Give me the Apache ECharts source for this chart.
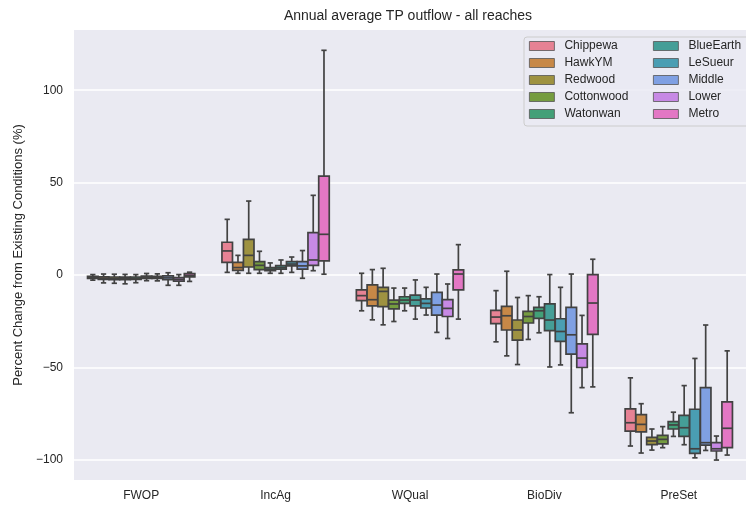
<!DOCTYPE html>
<html>
<head>
<meta charset="utf-8">
<script src="https://cdn.jsdelivr.net/npm/echarts@6/dist/echarts.min.js"></script>
<style>
html,body{margin:0;padding:0;background:#fff;}
#chart{width:746px;height:506px;}
</style>
</head>
<body>
<div id="chart"></div>
<script>
// Categories and hue levels
const categories = ['FWOP', 'IncAg', 'WQual', 'BioDiv', 'PreSet'];
const reaches = ['Chippewa', 'HawkYM', 'Redwood', 'Cottonwood', 'Watonwan',
                 'BlueEarth', 'LeSueur', 'Middle', 'Lower', 'Metro'];
const yTicks = [-100, -50, 0, 50, 100];

// Box statistics per reach: [min whisker, Q1, median, Q3, max whisker] for each category
const chippewa   = [[-2.8,-1.9,-1.4,-0.8,0.2],[1.4,6.8,13.0,17.7,30.1],[-19.4,-13.9,-11.2,-8.1,0.9],[-36.2,-26.3,-22.8,-19.2,-8.5],[-92.6,-84.5,-80.0,-72.5,-55.7]];
const hawkYM     = [[-4.3,-2.4,-1.8,-1.0,0.5],[0.9,2.5,4.0,6.8,10.6],[-24.3,-16.7,-13.4,-5.4,2.9],[-43.8,-29.8,-22.1,-17.0,2.0],[-96.4,-84.9,-80.9,-75.6,-69.7]];
const redwood    = [[-4.5,-2.5,-1.9,-1.1,0.4],[0.9,4.3,10.6,19.3,40.0],[-27.0,-17.2,-8.9,-6.7,3.6],[-48.5,-35.3,-29.8,-24.4,-12.2],[-94.8,-91.9,-89.9,-87.9,-83.4]];
const cottonwood = [[-4.8,-2.6,-2.0,-1.2,0.3],[0.9,2.9,5.2,7.2,12.8],[-25.2,-18.4,-15.7,-13.6,-7.1],[-34.9,-26.0,-22.5,-19.7,-11.2],[-93.5,-91.4,-89.0,-86.8,-82.1]];
const watonwan   = [[-4.2,-2.4,-1.8,-1.1,0.2],[0.9,2.3,3.1,4.0,6.5],[-19.4,-15.4,-13.6,-11.8,-7.1],[-31.3,-23.5,-19.4,-17.6,-11.8],[-87.4,-83.4,-81.2,-79.4,-74.3]];
const blueEarth  = [[-3.1,-1.8,-1.3,-0.6,0.8],[0.9,3.1,4.0,5.0,8.1],[-23.9,-16.7,-13.6,-10.9,-2.7],[-49.8,-30.1,-24.4,-15.7,0.2],[-91.9,-87.4,-82.7,-76.0,-59.9]];
const leSueur    = [[-3.2,-1.9,-1.4,-0.7,0.6],[1.4,4.9,5.9,7.2,9.7],[-21.7,-17.9,-15.4,-13.0,-6.7],[-48.7,-36.0,-30.6,-23.7,-6.7],[-99.0,-96.6,-94.1,-72.7,-45.2]];
const middle     = [[-5.6,-2.6,-1.6,-0.5,1.2],[-1.8,3.2,4.9,7.2,13.2],[-31.1,-21.7,-16.3,-9.4,0.5],[-74.6,-42.9,-32.4,-17.6,0.5],[-95.0,-92.1,-90.8,-61.0,-27.1]];
const lower      = [[-5.6,-3.3,-2.4,-1.4,0.2],[2.3,5.2,8.1,22.9,43.1],[-34.4,-22.5,-18.1,-13.4,-4.9],[-61.0,-50.1,-45.0,-37.3,-21.9],[-100.2,-95.3,-94.1,-90.8,-87.2]];
const metro      = [[-3.5,-1.0,-0.3,0.7,1.5],[0.4,7.6,22.0,53.5,121.6],[-23.9,-8.1,0.5,2.7,16.4],[-60.6,-32.2,-15.2,0.2,8.5],[-97.5,-93.5,-83.0,-68.7,-41.1]];

const reachStats = [chippewa, hawkYM, redwood, cottonwood, watonwan, blueEarth, leSueur, middle, lower, metro];
const colors = ['#e68294', '#c78847', '#9e9241', '#759c40', '#43a078',
                '#459e97', '#4a9eb3', '#7fa0e3', '#c789e5', '#e377c4'];
const edgeColor = '#424242';
const textColor = '#262626';
const FONT = '"Liberation Sans", Arial, Helvetica, sans-serif';

const N = reaches.length;

function makeRender(hueIdx) {
  return function (params, api) {
    const cat = api.value(0);
    const band = api.size([1, 0])[0];
    const slot = band * 0.8 / N;
    const cx = api.coord([cat, 0])[0] + (hueIdx - (N - 1) / 2) * slot;
    const bw = slot * 0.98;
    const yv = i => api.coord([cat, api.value(i)])[1];
    const yMin = yv(1), yQ1 = yv(2), yMed = yv(3), yQ3 = yv(4), yMax = yv(5);
    const ls = { stroke: edgeColor, lineWidth: 1.7, fill: null };
    return {
      type: 'group',
      children: [
        { type: 'rect', shape: { x: cx - bw / 2, y: yQ3, width: bw, height: yQ1 - yQ3 },
          style: { fill: colors[hueIdx], stroke: edgeColor, lineWidth: 1.7 } },
        { type: 'line', shape: { x1: cx, y1: yMax, x2: cx, y2: yQ3 }, style: ls },
        { type: 'line', shape: { x1: cx, y1: yQ1, x2: cx, y2: yMin }, style: ls },
        { type: 'line', shape: { x1: cx - bw / 4, y1: yMax, x2: cx + bw / 4, y2: yMax }, style: ls },
        { type: 'line', shape: { x1: cx - bw / 4, y1: yMin, x2: cx + bw / 4, y2: yMin }, style: ls },
        { type: 'line', shape: { x1: cx - bw / 2, y1: yMed, x2: cx + bw / 2, y2: yMed }, style: ls }
      ]
    };
  };
}

const series = reaches.map((name, j) => ({
  name: name,
  type: 'custom',
  renderItem: makeRender(j),
  itemStyle: { color: colors[j], borderColor: edgeColor },
  encode: { x: 0, y: [1, 2, 3, 4, 5] },
  data: reachStats[j].map((s, i) => [i].concat(s)),
  z: 2
}));

const legendCommon = {
  orient: 'vertical',
  top: 39.5,
  padding: 0,
  itemWidth: 25,
  itemHeight: 9,
  itemGap: 4,
  icon: 'rect',
  itemStyle: { borderColor: '#555555', borderWidth: 0.8 },
  textStyle: { fontFamily: FONT, fontSize: 12, color: textColor, lineHeight: 13, padding: [0, 0, 0, 5] },
  selectedMode: false,
  z: 5
};

const chart = echarts.init(document.getElementById('chart'), null, { renderer: 'canvas' });
chart.setOption({
  animation: false,
  backgroundColor: '#ffffff',
  title: {
    text: 'Annual average TP outflow - all reaches',
    left: 408,
    textAlign: 'center',
    top: 9,
    padding: 0,
    textStyle: { fontFamily: FONT, fontSize: 14, fontWeight: 'normal', color: textColor }
  },
  grid: {
    left: 74, right: -3, top: 30, bottom: 26,
    show: true, backgroundColor: '#eaeaf2', borderWidth: 0
  },
  graphic: [{
    type: 'rect',
    z: 4,
    shape: { x: 524, y: 37, width: 260, height: 89, r: 3 },
    style: { fill: 'rgba(234,234,242,0.8)', stroke: '#cccccc', lineWidth: 1 }
  }],
  legend: [
    Object.assign({ left: 529, data: reaches.slice(0, 5) }, legendCommon),
    Object.assign({ left: 653, data: reaches.slice(5) }, legendCommon)
  ],
  xAxis: {
    type: 'category',
    data: categories,
    axisLine: { show: false },
    axisTick: { show: false },
    splitLine: { show: false },
    axisLabel: { fontFamily: FONT, fontSize: 12, color: textColor, margin: 10 }
  },
  yAxis: {
    type: 'value',
    min: -111,
    max: 132.6,
    axisLine: { show: false },
    axisTick: { show: false },
    splitLine: { show: true, showMinLine: false, showMaxLine: false, lineStyle: { color: '#ffffff', width: 1.6 } },
    axisLabel: {
      fontFamily: FONT, fontSize: 12, color: textColor, margin: 11,
      showMinLabel: false, showMaxLabel: false,
      formatter: v => yTicks.indexOf(v) >= 0 ? (v < 0 ? '\u2212' + Math.abs(v) : String(v)) : ''
    },
    name: 'Percent Change from Existing Conditions (%)',
    nameLocation: 'middle',
    nameGap: 45,
    nameTextStyle: { fontFamily: FONT, fontSize: 13, color: textColor }
  },
  series: series
});
</script>
</body>
</html>
